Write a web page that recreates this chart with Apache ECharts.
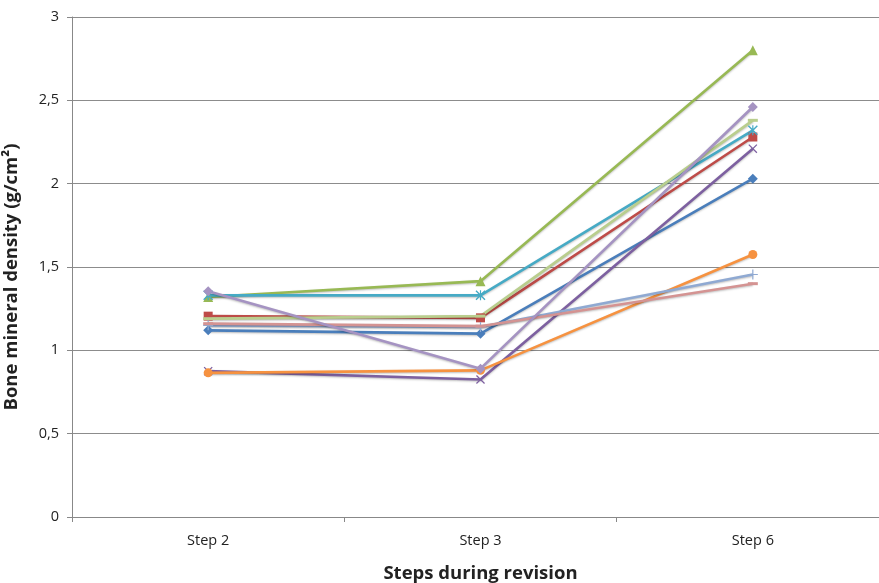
<!DOCTYPE html>
<html>
<head>
<meta charset="utf-8">
<script src="https://cdn.jsdelivr.net/npm/echarts@6/dist/echarts.min.js"></script>
<style>html,body{margin:0;padding:0;background:#fff}#c{width:879px;height:583px}</style>
</head>
<body>
<div id="c"></div>
<script>
const categories = ['Step 2', 'Step 3', 'Step 6'];
const yTicks = [0, 0.5, 1, 1.5, 2, 2.5, 3];
const blueDiamond   = [1.12, 1.10, 2.03];
const redSquare     = [1.205, 1.195, 2.28];
const greenTriangle = [1.32, 1.415, 2.80];
const purpleCross   = [0.875, 0.825, 2.21];
const tealStar      = [1.33, 1.33, 2.32];
const orangeCircle  = [0.865, 0.88, 1.575];
const lightBluePlus = [1.15, 1.14, 1.455];
const pinkDash      = [1.16, 1.145, 1.40];
const lightGreen    = [1.19, 1.205, 2.38];
const lavender      = [1.355, 0.89, 2.46];

const X = 'path://M0,1 L1,0 L10,9 L9,10 Z M9,0 L10,1 L1,10 L0,9 Z';
const PLUS = 'path://M4.4,0 H5.6 V10 H4.4 Z M0,4.4 H10 V5.6 H0 Z';
const STAR = 'path://M0,1 L1,0 L10,9 L9,10 Z M9,0 L10,1 L1,10 L0,9 Z M4.4,0 H5.6 V10 H4.4 Z';
const DASH = 'path://M0,0 H10 V2 H0 Z';

function mk(name, data, color, symbol, size) {
  return {
    name, type: 'line', data,
    symbol, symbolSize: size,
    lineStyle: { color, width: 2.6, shadowColor: 'rgba(0,0,0,0.25)', shadowBlur: 2, shadowOffsetY: 1 },
    itemStyle: { color, borderWidth: 0 },
    emphasis: { disabled: true },
    animation: false
  };
}

const chart = echarts.init(document.getElementById('c'));
chart.setOption({
  animation: false,
  grid: { left: 72, top: 17, width: 817, height: 500, outerBoundsMode: 'none', containLabel: false },
  xAxis: {
    type: 'category', data: categories, boundaryGap: true,
    axisLine: { lineStyle: { color: '#888', width: 1 } },
    axisTick: { show: true, length: 5, lineStyle: { color: '#888' } },
    axisLabel: { color: '#222', fontSize: 14.5, margin: 16, fontFamily: 'Open Sans' },
    name: 'Steps during revision', nameLocation: 'middle', nameGap: 47,
    nameTextStyle: { fontSize: 18.5, fontWeight: 'bold', color: '#222', fontFamily: 'Open Sans' }
  },
  yAxis: {
    type: 'value', min: 0, max: 3, interval: 0.5,
    axisLine: { show: true, lineStyle: { color: '#888' } },
    axisTick: { show: true, length: 5, lineStyle: { color: '#888' } },
    splitLine: { lineStyle: { color: '#8c8c8c', width: 1 } },
    axisLabel: { color: '#222', fontSize: 14.5, margin: 13, fontFamily: 'Open Sans',
      formatter: v => String(v).replace('.', ',') },
    name: 'Bone mineral density (g/cm²)', nameLocation: 'middle', nameGap: 51,
    nameTextStyle: { fontSize: 18.5, fontWeight: 'bold', color: '#222', fontFamily: 'Open Sans',
      padding: [0, 20, 0, 0] }
  },
  series: [
    mk('1', blueDiamond, '#4A7EBB', 'diamond', 10),
    mk('2', redSquare, '#BE4B48', 'rect', 9),
    mk('3', greenTriangle, '#98B954', 'triangle', 10),
    mk('4', purpleCross, '#7D60A0', X, 9),
    mk('5', tealStar, '#46AAC5', STAR, 10),
    mk('6', orangeCircle, '#F69240', 'circle', 9),
    mk('7', lightBluePlus, '#8FA9D2', PLUS, 10),
    mk('8', pinkDash, '#D49392', DASH, [10, 3]),
    mk('9', lightGreen, '#B9CE8D', DASH, [10, 3]),
    mk('10', lavender, '#A593C2', 'diamond', 10)
  ]
});
</script>
</body>
</html>
